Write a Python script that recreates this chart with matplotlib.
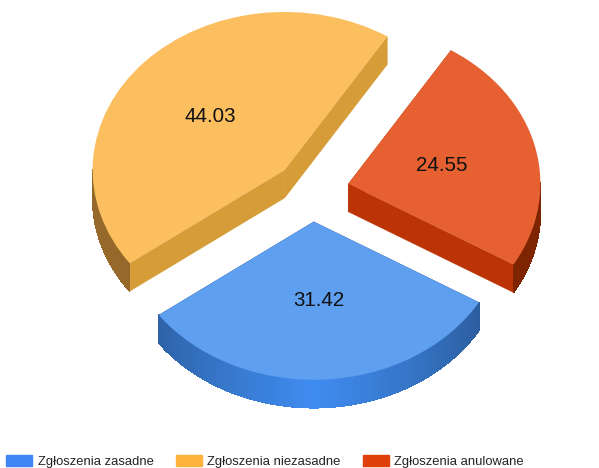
import numpy as np
import matplotlib
matplotlib.use("Agg")
import matplotlib.pyplot as plt
from matplotlib.patches import Polygon, Patch
from matplotlib.colors import to_rgb

labels = ['Zgłoszenia zasadne', 'Zgłoszenia niezasadne', 'Zgłoszenia anulowane']
values = [31.42, 44.03, 24.55]
legend_colors = ['#4285f4', '#ffb23e', '#e0400a']
top_colors = ['#5e9ff0', '#fcbf60', '#e66032']
radius_colors = ['#2f62a6', '#d59c38', '#bc3305']
arc_dark = ['#2c5d9e', '#96692a', '#7e2400']
arc_light = ['#3f8cf0', '#96692a', '#7e2400']

W, H = 599, 468
rx, ry = 192, 158
cx, cy = 312, 191
depth = 28 / ry
explode = 0.195
start = -30.7

plt.rcParams['font.family'] = ['Liberation Sans', 'DejaVu Sans']
fig = plt.figure(figsize=(W / 100, H / 100), dpi=100)
ax = fig.add_axes([0, 0, 1, 1])

wedges, _, autotexts = ax.pie(values, explode=[explode] * 3, startangle=start, counterclock=False,
                              colors=top_colors, autopct='%.2f', pctdistance=0.5,
                              wedgeprops={'linewidth': 0, 'zorder': 5},
                              textprops={'fontsize': 14.8, 'color': '#111111'})
for t in autotexts:
    t.set_zorder(6)
autotexts[1].set_x(autotexts[1].get_position()[0] - 4 / rx)

# grubosc tortu - sciany pod gornymi wycinkami
a0 = start
for i, v in enumerate(values):
    a1 = a0 - v / sum(values) * 360
    mid = np.radians((a0 + a1) / 2)
    ox, oy = explode * np.cos(mid), explode * np.sin(mid)
    for a in (a0, a1):
        r = np.radians(a)
        px, py = ox + np.cos(r), oy + np.sin(r)
        ax.add_patch(Polygon([(ox, oy), (px, py), (px, py - depth), (ox, oy - depth)],
                             fc=radius_colors[i], ec=radius_colors[i], lw=0.3, zorder=3))
    # zewnetrzna krawedz, tylko przednia polowa
    angs = np.arange(a1, a0, 1.0)
    angs = np.append(angs, a0)
    for b0, b1 in zip(angs[:-1], angs[1:]):
        bm = (b0 + b1) / 2
        if np.sin(np.radians(bm)) > 0:
            continue
        t = np.clip(1 - abs(((bm + 90 + 180) % 360) - 180) / 60, 0, 1)
        col = (1 - t) * np.array(to_rgb(arc_dark[i])) + t * np.array(to_rgb(arc_light[i]))
        r0, r1 = np.radians(b0), np.radians(b1)
        ax.add_patch(Polygon([(ox + np.cos(r0), oy + np.sin(r0)), (ox + np.cos(r1), oy + np.sin(r1)),
                              (ox + np.cos(r1), oy + np.sin(r1) - depth), (ox + np.cos(r0), oy + np.sin(r0) - depth)],
                             fc=col, ec=col, lw=0.4, antialiased=False, zorder=4))
    a0 = a1

ax.set_xlim(-cx / rx, (W - cx) / rx)
ax.set_ylim(-(H - cy) / ry, cy / ry)
ax.set_aspect('auto')

handles = [Patch(color=c) for c in legend_colors]
fig.legend(handles, labels, ncol=3, loc='lower left', bbox_to_anchor=(5 / W, -1 / H), frameon=False,
           fontsize=9.4, handlelength=2.0, handleheight=0.9, handletextpad=0.4, columnspacing=1.7,
           borderpad=0.1, borderaxespad=0, labelcolor='#222222')

fig.savefig('out.png', dpi=100)
